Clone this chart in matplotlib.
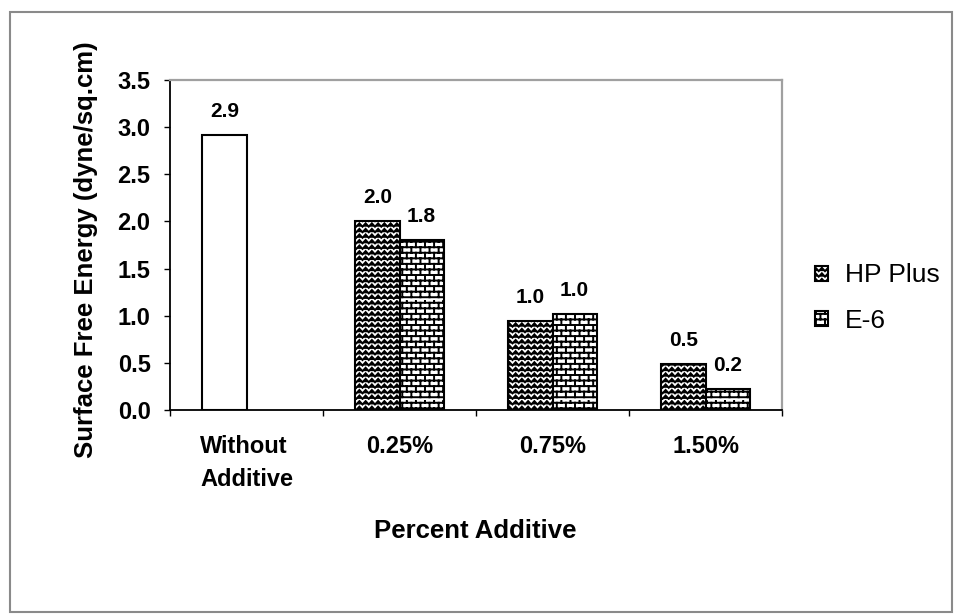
import warnings
import numpy as np
import matplotlib
matplotlib.use("Agg")
import matplotlib.pyplot as plt
import matplotlib.hatch as mhatch
from matplotlib.path import Path
from matplotlib.patches import Rectangle

warnings.filterwarnings("ignore")

categories = ["Without\nAdditive", "0.25%", "0.75%", "1.50%"]
without_value = [2.92]
without_label = ["2.9"]
hp_plus = [2.00, 0.94, 0.49]
hp_labels = ["2.0", "1.0", "0.5"]
e6 = [1.80, 1.02, 0.22]
e6_labels = ["1.8", "1.0", "0.2"]
series_names = ["HP Plus", "E-6"]


# zigzag pattern ("z") and brick pattern ("b") for the bar fills
class ZigzagHatch(mhatch.HatchPatternBase):
    def __init__(self, hatch, density):
        self.rows = hatch.count("z") * density
        self.teeth = 16
        self.num_vertices = self.rows * (2 * self.teeth + 1)

    def set_vertices_and_codes(self, vertices, codes):
        n = 2 * self.teeth + 1
        xs = np.linspace(0, 1, n)
        amp = np.where(np.arange(n) % 2 == 0, -0.017, 0.017)
        for i in range(self.rows):
            y0 = (i + 0.5) / self.rows
            vertices[i * n:(i + 1) * n, 0] = xs
            vertices[i * n:(i + 1) * n, 1] = y0 + amp
            codes[i * n] = Path.MOVETO
            codes[i * n + 1:(i + 1) * n] = Path.LINETO


class BrickHatch(mhatch.HatchPatternBase):
    def __init__(self, hatch, density):
        self.rows = hatch.count("b") * density
        self.cols = 11
        self.num_vertices = self.rows * 2 + self.rows * self.cols * 2

    def set_vertices_and_codes(self, vertices, codes):
        k = 0
        for i in range(self.rows):
            y0 = (i + 0.5) / self.rows
            vertices[k] = (0, y0)
            vertices[k + 1] = (1, y0)
            codes[k] = Path.MOVETO
            codes[k + 1] = Path.LINETO
            k += 2
            y1 = (i + 1.5) / self.rows
            for j in range(self.cols):
                x = (j + 0.25 + 0.5 * (i % 2)) / self.cols
                vertices[k] = (x, y0)
                vertices[k + 1] = (x, y1)
                codes[k] = Path.MOVETO
                codes[k + 1] = Path.LINETO
                k += 2


mhatch._hatch_types.append(ZigzagHatch)
mhatch._hatch_types.append(BrickHatch)

plt.rcParams["font.family"] = ["Liberation Sans", "DejaVu Sans"]
plt.rcParams["hatch.linewidth"] = 1.4
plt.rcParams["hatch.color"] = "black"

fig = plt.figure(figsize=(9.6, 6.16), dpi=100)
ax = fig.add_axes([170 / 960, 1 - 410 / 616, 612 / 960, 330 / 616])

x = np.arange(len(categories))
w = 0.29

b0 = ax.bar(x[:1] - w / 2, without_value, w, color="white", edgecolor="black", linewidth=1.5)
b1 = ax.bar(x[1:] - w / 2, hp_plus, w, color="white", edgecolor="black", linewidth=1.5,
            hatch="zzz", label=series_names[0])
b2 = ax.bar(x[1:] + w / 2, e6, w, color="white", edgecolor="black", linewidth=1.5,
            hatch="bbb", label=series_names[1])

for bars, labels in [(b0, without_label), (b1, hp_labels), (b2, e6_labels)]:
    for rect, lab in zip(bars, labels):
        ax.annotate(lab, (rect.get_x() + rect.get_width() / 2, rect.get_height()),
                    xytext=(0, 13), textcoords="offset points", ha="center",
                    va="baseline", fontsize=15, fontweight="bold")

ax.set_xlim(-0.5, 3.5)
ax.set_ylim(0, 3.5)
ax.set_yticks(np.arange(0, 3.51, 0.5))
ax.set_yticklabels([f"{v:.1f}" for v in np.arange(0, 3.51, 0.5)], fontweight="bold")
ax.set_xticks(x)
ax.set_xticklabels(categories, linespacing=1.55, fontweight="bold")
for lab in ax.get_xticklabels():
    lab.set_multialignment("left")
ax.set_xticks(np.arange(-0.5, 3.6, 1), minor=True)
ax.tick_params(axis="x", which="major", length=0, pad=18, labelsize=17)
ax.tick_params(axis="x", which="minor", length=4.5, width=1, direction="out")
ax.tick_params(axis="y", length=4, width=1, direction="out", pad=10, labelsize=17)

for s in ["left", "bottom"]:
    ax.spines[s].set_color("black")
    ax.spines[s].set_linewidth(1.3)
for s in ["top", "right"]:
    ax.spines[s].set_color("#a0a0a0")
    ax.spines[s].set_linewidth(1.6)

ax.set_ylabel("Surface Free Energy (dyne/sq.cm)", fontsize=18.5, fontweight="bold")
ax.yaxis.set_label_coords(-0.117, 0.485)
ax.set_xlabel("Percent Additive", fontsize=18.5, fontweight="bold", va="top")
ax.xaxis.set_label_coords(0.498, -0.33)

fig.legend(handles=[b1, b2], labels=series_names, loc="center left",
           bbox_to_anchor=(815 / 960, 1 - 298 / 616), frameon=False, fontsize=19,
           handlelength=0.5, handleheight=0.5, handletextpad=0.62,
           labelspacing=0.8, borderpad=0, borderaxespad=0)

fig.patches.append(Rectangle((10 / 960, 4 / 616), 942 / 960, 600 / 616,
                             transform=fig.transFigure, fill=False,
                             edgecolor="#8a8a8a", linewidth=1.5))

fig.savefig("out.png", dpi=100)
